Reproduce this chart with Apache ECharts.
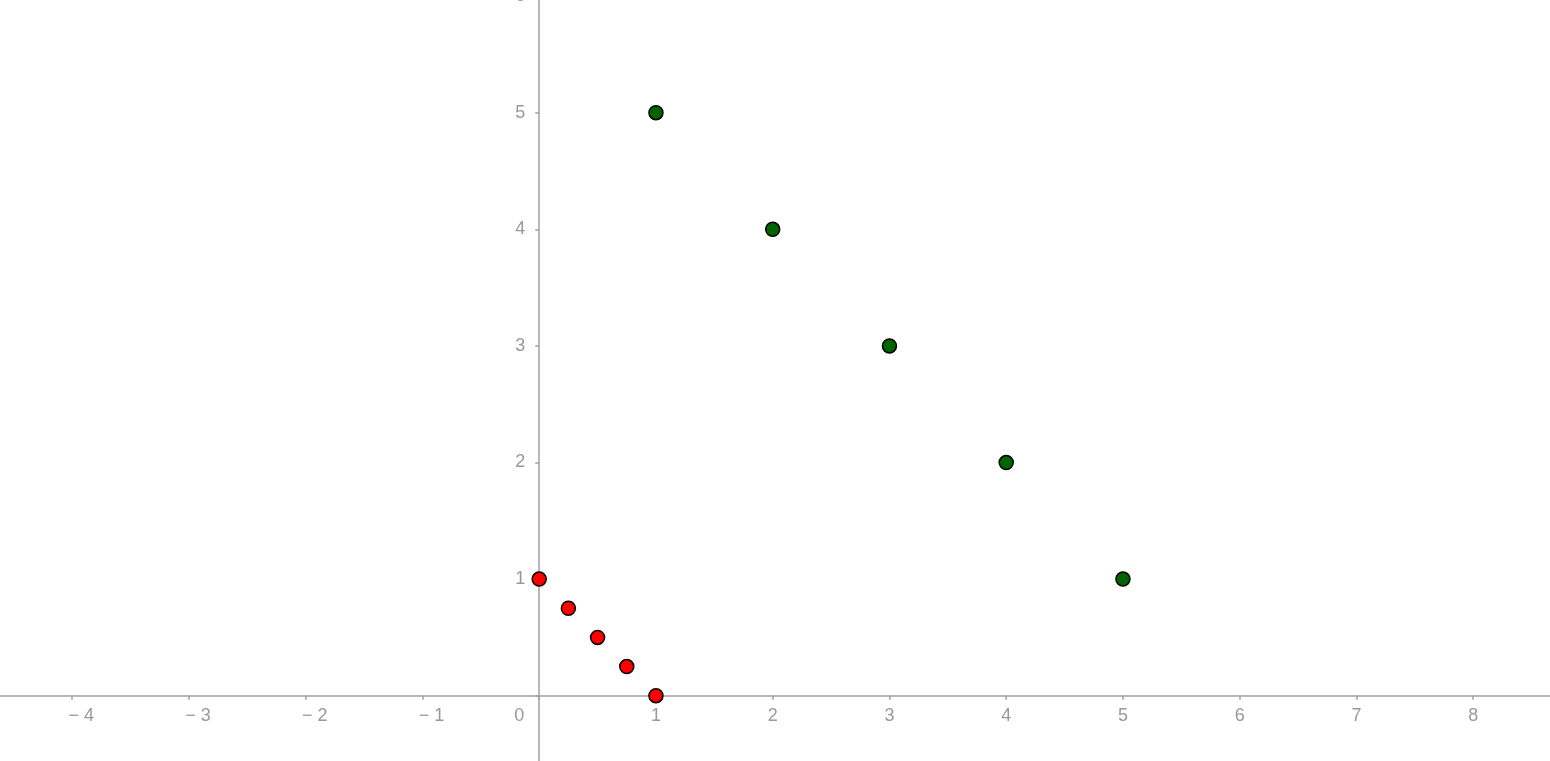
<!DOCTYPE html>
<html>
<head>
<meta charset="utf-8">
<script src="https://cdn.jsdelivr.net/npm/echarts@6/dist/echarts.min.js"></script>
<style>
html,body{margin:0;padding:0;background:#fff;}
#chart{width:1550px;height:761px;}
</style>
</head>
<body>
<div id="chart"></div>
<script>
// Data
var redX = [0, 0.25, 0.5, 0.75, 1];
var redY = [1, 0.75, 0.5, 0.25, 0];
var greenX = [1, 2, 3, 4, 5];
var greenY = [5, 4, 3, 2, 1];
var xTicks = [-5, -4, -3, -2, -1, 0, 1, 2, 3, 4, 5, 6, 7, 8, 9];
var yTicks = [-1, 0, 1, 2, 3, 4, 5, 6];

function pairs(xs, ys) { return xs.map(function (x, i) { return [x, ys[i]]; }); }

var ux = 116.75, uy = 116.6, ox = 539.2, oy = 695.7;
var xMin = xTicks[0], xMax = xTicks[xTicks.length - 1];
var yMin = yTicks[0], yMax = yTicks[yTicks.length - 1];

var axisColor = '#a0a0a0';
var labelColor = '#999999';
var font = '"Liberation Sans", Arial, sans-serif';
var fs = 18;

var chart = echarts.init(document.getElementById('chart'), null, { renderer: 'canvas' });
chart.setOption({
  animation: false,
  backgroundColor: '#ffffff',
  grid: {
    left: ox + xMin * ux,
    top: oy - yMax * uy,
    width: (xMax - xMin) * ux,
    height: (yMax - yMin) * uy,
    containLabel: false,
    outerBoundsMode: 'none'
  },
  xAxis: {
    type: 'value', min: xMin, max: xMax, interval: 1,
    position: 'bottom',
    offset: yMin * uy,
    axisLine: { onZero: false, lineStyle: { color: axisColor, width: 1.5 } },
    axisTick: { show: true, length: 4, lineStyle: { color: axisColor, width: 1.5 } },
    splitLine: { show: false },
    axisLabel: {
      margin: 11, fontSize: fs, color: labelColor, fontFamily: font,
      showMinLabel: true, showMaxLabel: true, hideOverlap: false,
      formatter: function (v) {
        if (v === 0) return '{z|0}';
        if (v < 0) return '{n|\u2212 ' + Math.abs(v) + '}';
        return String(v);
      },
      rich: {
        z: { fontSize: fs, color: labelColor, fontFamily: font, padding: [0, 40, 0, 0] },
        n: { fontSize: fs, color: labelColor, fontFamily: font, padding: [0, 0, 0, 18] }
      }
    }
  },
  yAxis: {
    type: 'value', min: yMin, max: yMax, interval: 1,
    position: 'left',
    offset: xMin * ux,
    axisLine: { onZero: false, lineStyle: { color: axisColor, width: 1.5 } },
    axisTick: { show: true, length: 4, lineStyle: { color: axisColor, width: 1.5 } },
    splitLine: { show: false },
    axisLabel: {
      margin: 14, fontSize: fs, color: labelColor, fontFamily: font,
      showMinLabel: true, showMaxLabel: true, hideOverlap: false,
      formatter: function (v) {
        if (v === 0) return '';
        if (v < 0) return '\u2212 ' + Math.abs(v);
        return String(v);
      }
    }
  },
  series: [
    {
      type: 'scatter', data: pairs(redX, redY), symbolSize: 14, clip: false,
      itemStyle: { color: '#ff0000', borderColor: '#000000', borderWidth: 1.5, opacity: 1 }
    },
    {
      type: 'scatter', data: pairs(greenX, greenY), symbolSize: 14, clip: false,
      itemStyle: { color: '#006400', borderColor: '#000000', borderWidth: 1.5, opacity: 1 }
    }
  ]
});
</script>
</body>
</html>
